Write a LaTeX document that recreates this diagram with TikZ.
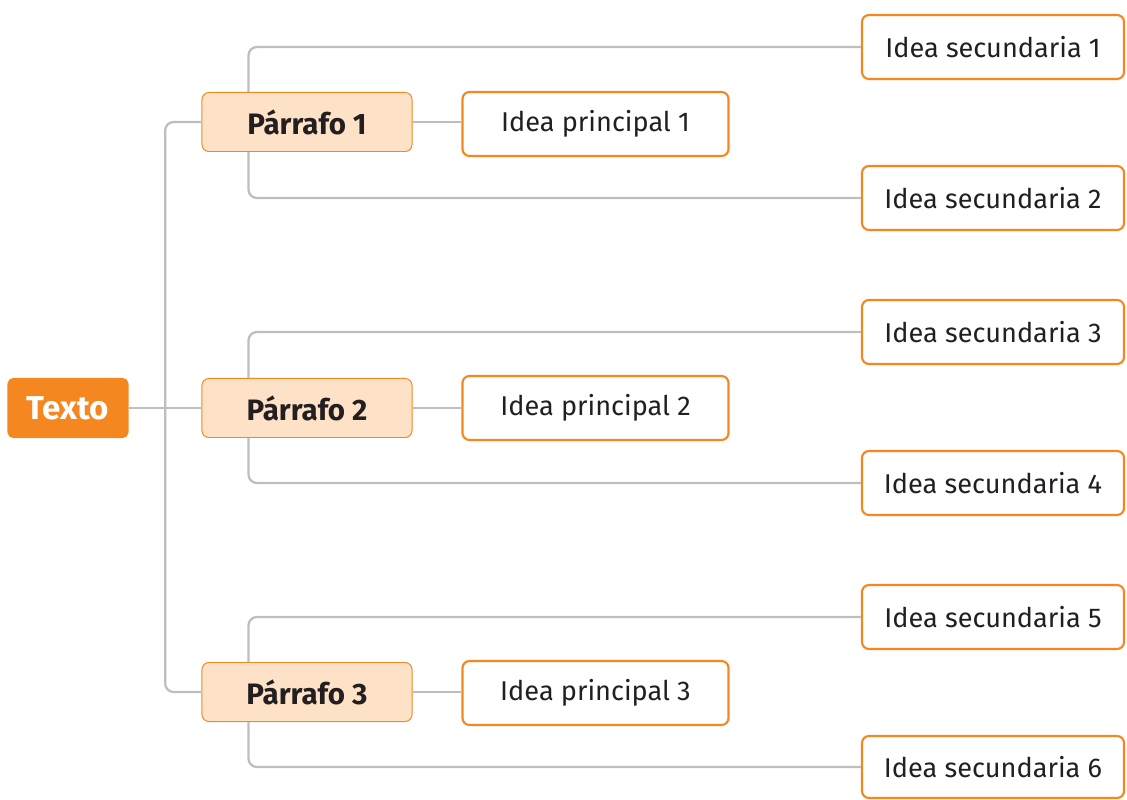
\documentclass[tikz,border=0pt]{standalone}
\usepackage{fontspec}
\setmainfont{Fira Sans}
\usetikzlibrary{positioning,calc}
\definecolor{mainorange}{RGB}{245,135,32}
\definecolor{peach}{RGB}{253,226,200}
\definecolor{linegray}{RGB}{190,190,194}
\definecolor{textdark}{RGB}{35,31,32}

\tikzset{
  rootbox/.style={fill=mainorange, rounded corners=4pt, minimum width=3.025cm, minimum height=1.5cm,
    text=white, font=\fontsize{23.5}{26}\selectfont\bfseries},
  parabox/.style={draw=mainorange, fill=peach, line width=0.7pt, rounded corners=5pt,
    minimum width=5.25cm, minimum height=1.475cm, text=textdark, font=\fontsize{21}{24}\selectfont\bfseries},
  ideabox/.style={draw=mainorange, fill=white, line width=1.5pt, rounded corners=5pt,
    minimum width=6.65cm, minimum height=1.6cm, text=textdark, font=\fontsize{19.3}{22}\selectfont},
  link/.style={draw=linegray, line width=1.6pt, rounded corners=6pt}
}

\begin{document}
\begin{tikzpicture}[x=0.025cm, y=-0.025cm]
    \useasboundingbox (0,0) rectangle (1127,800);

    % Root
    \node[rootbox] (texto) at (68,408) {Texto};

    % Paragraphs
    \node[parabox] (p1) at (307,122) {Párrafo 1};
    \node[parabox] (p2) at (307,408) {Párrafo 2};
    \node[parabox] (p3) at (307,692) {Párrafo 3};

    % Main ideas
    \node[ideabox] (i1) at (595.5,124) {Idea principal 1};
    \node[ideabox] (i2) at (595.5,408) {Idea principal 2};
    \node[ideabox] (i3) at (595.5,693) {Idea principal 3};

    % Secondary ideas
    \node[ideabox, minimum width=6.55cm] (s1) at (993,47) {Idea secundaria 1};
    \node[ideabox, minimum width=6.55cm] (s2) at (993,198) {Idea secundaria 2};
    \node[ideabox, minimum width=6.55cm] (s3) at (993,332) {Idea secundaria 3};
    \node[ideabox, minimum width=6.55cm] (s4) at (993,483) {Idea secundaria 4};
    \node[ideabox, minimum width=6.55cm] (s5) at (993,617) {Idea secundaria 5};
    \node[ideabox, minimum width=6.55cm, minimum height=1.55cm] (s6) at (993,767) {Idea secundaria 6};

    % Trunk
    \coordinate (tr) at ($(texto.east)!0.5!(p2.west)$);
    \draw[link] (texto.east) -- (p2.west);
    \draw[link] (p1.west) -| (tr) |- (p3.west);

    % Branches
    \foreach \p/\i/\a/\b in {p1/i1/s1/s2, p2/i2/s3/s4, p3/i3/s5/s6} {
        \draw[link] (\p.east) -- (\p.east -| \i.west);
        \draw[link] ($(\p.north west)+(47,0)$) |- (\a.west);
        \draw[link] ($(\p.south west)+(47,0)$) |- (\b.west);
    }

\end{tikzpicture}
\end{document}
